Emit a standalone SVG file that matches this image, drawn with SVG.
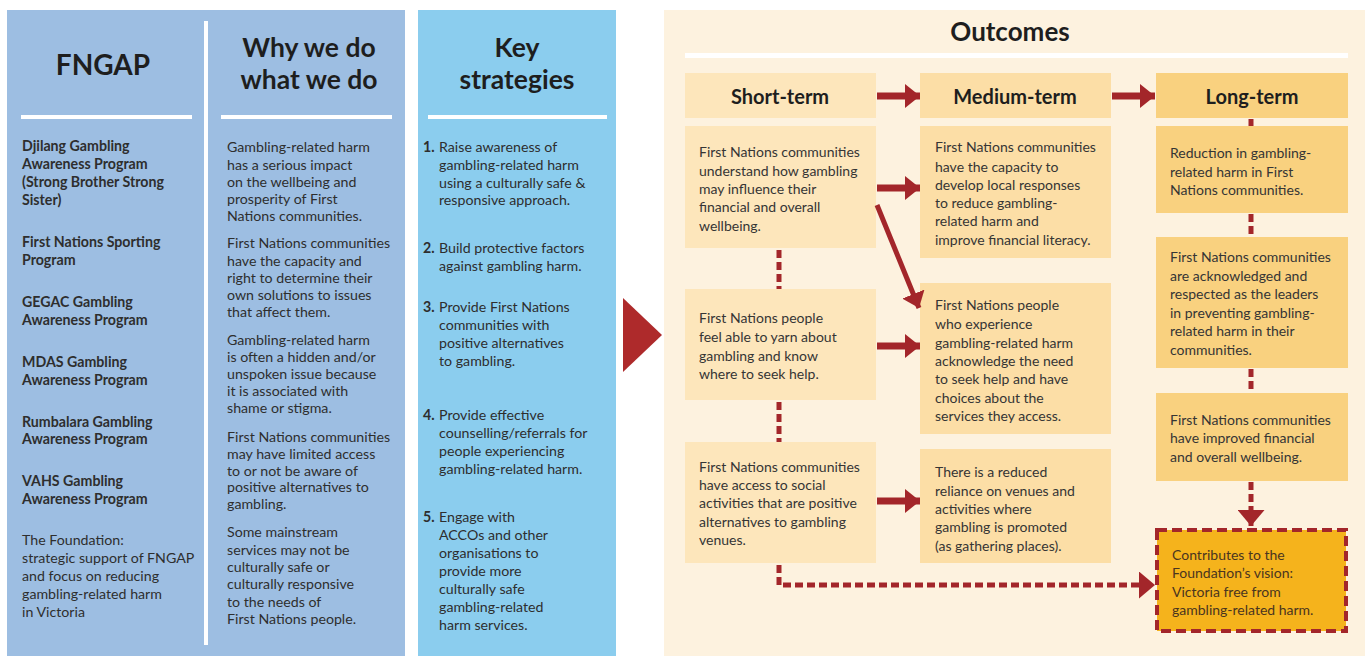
<svg xmlns="http://www.w3.org/2000/svg" width="1368" height="656" viewBox="0 0 1368 656">
  <defs>
    <style>
      text { font-family: Lato, "Open Sans", "DejaVu Sans", sans-serif; fill: #2e2e2e; }
      .ttl { font-weight: 700; fill: #1e1e1e; text-anchor: middle; }
      .bd { font-weight: 700; font-size: 14.2px; }
      .tx { font-size: 14.2px; }
      .ot { font-size: 14px; fill: #353535; }
      .num { font-weight: 700; }
      .rule { fill: #ffffff; }
      .st { fill: #fde6bb; }
      .md { fill: #fcdea6; }
      .lg { fill: #f9d17f; }
      .flow { stroke: #a3262a; fill: none; }
      .dash { stroke: #a3262a; fill: none; stroke-width: 5; stroke-dasharray: 8 4; }
    </style>
    <marker id="ah" markerUnits="userSpaceOnUse" markerWidth="15" markerHeight="24" refX="15" refY="12" orient="auto">
      <path d="M0,0 L15,12 L0,24 Z" fill="#a3262a"/>
    </marker>
    <marker id="ahd" markerUnits="userSpaceOnUse" markerWidth="16" markerHeight="27" refX="16" refY="13.5" orient="auto">
      <path d="M0,0 L16,13.5 L0,27 Z" fill="#a3262a"/>
    </marker>
  </defs>

  <rect width="1368" height="656" fill="#ffffff"/>

  <!-- FNGAP and "Why we do what we do" panel -->
  <g id="panel-left">
    <rect x="7" y="10" width="398" height="646" fill="#9dbee2"/>
    <rect x="204" y="21" width="4" height="624" class="rule"/>
  </g>

  <g id="fngap">
    <text x="103" y="75" class="ttl" font-size="28">FNGAP</text>
    <rect x="21" y="115" width="171" height="4" class="rule"/>
    <text class="bd">
      <tspan x="22" y="151">Djilang Gambling</tspan>
      <tspan x="22" y="169">Awareness Program</tspan>
      <tspan x="22" y="187">(Strong Brother Strong</tspan>
      <tspan x="22" y="205">Sister)</tspan>
      <tspan x="22" y="247">First Nations Sporting</tspan>
      <tspan x="22" y="265">Program</tspan>
      <tspan x="22" y="307">GEGAC Gambling</tspan>
      <tspan x="22" y="325">Awareness Program</tspan>
      <tspan x="22" y="367">MDAS Gambling</tspan>
      <tspan x="22" y="385">Awareness Program</tspan>
      <tspan x="22" y="427">Rumbalara Gambling</tspan>
      <tspan x="22" y="444">Awareness Program</tspan>
      <tspan x="22" y="486">VAHS Gambling</tspan>
      <tspan x="22" y="504">Awareness Program</tspan>
    </text>
    <text class="tx">
      <tspan x="22" y="545">The Foundation:</tspan>
      <tspan x="22" y="563">strategic support of FNGAP</tspan>
      <tspan x="22" y="581">and focus on reducing</tspan>
      <tspan x="22" y="599">gambling-related harm</tspan>
      <tspan x="22" y="617">in Victoria</tspan>
    </text>
  </g>

  <g id="why">
    <text x="309" y="57" class="ttl" font-size="26.5">Why we do</text>
    <text x="309" y="89" class="ttl" font-size="26.5">what we do</text>
    <rect x="221" y="115" width="171" height="4" class="rule"/>
    <text class="tx">
      <tspan x="227" y="152">Gambling-related harm</tspan>
      <tspan x="227" y="170">has a serious impact</tspan>
      <tspan x="227" y="187">on the wellbeing and</tspan>
      <tspan x="227" y="204">prosperity of First</tspan>
      <tspan x="227" y="221">Nations communities.</tspan>
      <tspan x="227" y="248">First Nations communities</tspan>
      <tspan x="227" y="266">have the capacity and</tspan>
      <tspan x="227" y="283">right to determine their</tspan>
      <tspan x="227" y="300">own solutions to issues</tspan>
      <tspan x="227" y="317">that affect them.</tspan>
      <tspan x="227" y="345">Gambling-related harm</tspan>
      <tspan x="227" y="362">is often a hidden and/or</tspan>
      <tspan x="227" y="379">unspoken issue because</tspan>
      <tspan x="227" y="396">it is associated with</tspan>
      <tspan x="227" y="413">shame or stigma.</tspan>
      <tspan x="227" y="442">First Nations communities</tspan>
      <tspan x="227" y="459">may have limited access</tspan>
      <tspan x="227" y="476">to or not be aware of</tspan>
      <tspan x="227" y="492">positive alternatives to</tspan>
      <tspan x="227" y="509">gambling.</tspan>
      <tspan x="227" y="537">Some mainstream</tspan>
      <tspan x="227" y="555">services may not be</tspan>
      <tspan x="227" y="572">culturally safe or</tspan>
      <tspan x="227" y="589">culturally responsive</tspan>
      <tspan x="227" y="607">to the needs of</tspan>
      <tspan x="227" y="624">First Nations people.</tspan>
    </text>
  </g>

  <!-- Key strategies panel -->
  <g id="strategies">
    <rect x="418" y="10" width="198" height="646" fill="#8bcdee"/>
    <text x="517" y="57" class="ttl" font-size="26.5">Key</text>
    <text x="517" y="89" class="ttl" font-size="26.5">strategies</text>
    <rect x="428" y="115" width="179" height="4" class="rule"/>
    <text class="tx">
      <tspan x="423" y="152" class="num">1.</tspan><tspan x="439" y="152">Raise awareness of</tspan>
      <tspan x="439" y="170">gambling-related harm</tspan>
      <tspan x="439" y="188">using a culturally safe &amp;</tspan>
      <tspan x="439" y="205">responsive approach.</tspan>
      <tspan x="423" y="253" class="num">2.</tspan><tspan x="439" y="253">Build protective factors</tspan>
      <tspan x="439" y="271">against gambling harm.</tspan>
      <tspan x="423" y="312" class="num">3.</tspan><tspan x="439" y="312">Provide First Nations</tspan>
      <tspan x="439" y="330">communities with</tspan>
      <tspan x="439" y="348">positive alternatives</tspan>
      <tspan x="439" y="366">to gambling.</tspan>
      <tspan x="423" y="420" class="num">4.</tspan><tspan x="439" y="420">Provide effective</tspan>
      <tspan x="439" y="438">counselling/referrals for</tspan>
      <tspan x="439" y="456">people experiencing</tspan>
      <tspan x="439" y="474">gambling-related harm.</tspan>
      <tspan x="423" y="522" class="num">5.</tspan><tspan x="439" y="522">Engage with</tspan>
      <tspan x="439" y="540">ACCOs and other</tspan>
      <tspan x="439" y="558">organisations to</tspan>
      <tspan x="439" y="576">provide more</tspan>
      <tspan x="439" y="594">culturally safe</tspan>
      <tspan x="439" y="612">gambling-related</tspan>
      <tspan x="439" y="630">harm services.</tspan>
    </text>
  </g>

  <!-- Pointer into the outcomes -->
  <g id="pointer">
    <polygon points="623,298 662,335 623,372" fill="#ae2a2b"/>
  </g>

  <!-- Outcomes panel -->
  <g id="outcomes">
    <rect x="664" y="10" width="701" height="646" fill="#fdf2df"/>
    <text x="1010" y="41" class="ttl" font-size="26">Outcomes</text>
    <rect x="685" y="53" width="663" height="5" class="rule"/>
  </g>

  <g id="short-term">
    <rect x="685" y="73" width="191" height="45" class="st"/>
    <text x="780" y="104" class="ttl" font-size="20">Short-term</text>
  </g>
  <g id="medium-term">
    <rect x="920" y="73" width="191" height="45" class="md"/>
    <text x="1015" y="104" class="ttl" font-size="20">Medium-term</text>
  </g>
  <g id="long-term">
    <rect x="1156" y="73" width="192" height="45" class="lg"/>
    <text x="1252" y="104" class="ttl" font-size="20">Long-term</text>
  </g>

  <g id="s1">
    <rect x="685" y="126" width="191" height="122" class="st"/>
    <text class="ot">
      <tspan x="699" y="157">First Nations communities</tspan>
      <tspan x="699" y="176">understand how gambling</tspan>
      <tspan x="699" y="194">may influence their</tspan>
      <tspan x="699" y="212">financial and overall</tspan>
      <tspan x="699" y="231">wellbeing.</tspan>
    </text>
  </g>
  <g id="s2">
    <rect x="685" y="289" width="191" height="111" class="st"/>
    <text class="ot">
      <tspan x="699" y="323">First Nations people</tspan>
      <tspan x="699" y="342">feel able to yarn about</tspan>
      <tspan x="699" y="361">gambling and know</tspan>
      <tspan x="699" y="379">where to seek help.</tspan>
    </text>
  </g>
  <g id="s3">
    <rect x="685" y="442" width="191" height="121" class="st"/>
    <text class="ot">
      <tspan x="699" y="472">First Nations communities</tspan>
      <tspan x="699" y="490">have access to social</tspan>
      <tspan x="699" y="508">activities that are positive</tspan>
      <tspan x="699" y="527">alternatives to gambling</tspan>
      <tspan x="699" y="545">venues.</tspan>
    </text>
  </g>

  <g id="m1">
    <rect x="920" y="126" width="191" height="132" class="md"/>
    <text class="ot">
      <tspan x="935" y="152">First Nations communities</tspan>
      <tspan x="935" y="172">have the capacity to</tspan>
      <tspan x="935" y="190">develop local responses</tspan>
      <tspan x="935" y="208">to reduce gambling-</tspan>
      <tspan x="935" y="226">related harm and</tspan>
      <tspan x="935" y="245">improve financial literacy.</tspan>
    </text>
  </g>
  <g id="m2">
    <rect x="920" y="283" width="191" height="151" class="md"/>
    <text class="ot">
      <tspan x="935" y="310">First Nations people</tspan>
      <tspan x="935" y="329">who experience</tspan>
      <tspan x="935" y="348">gambling-related harm</tspan>
      <tspan x="935" y="366">acknowledge the need</tspan>
      <tspan x="935" y="384">to seek help and have</tspan>
      <tspan x="935" y="403">choices about the</tspan>
      <tspan x="935" y="421">services they access.</tspan>
    </text>
  </g>
  <g id="m3">
    <rect x="920" y="449" width="191" height="114" class="md"/>
    <text class="ot">
      <tspan x="935" y="477">There is a reduced</tspan>
      <tspan x="935" y="496">reliance on venues and</tspan>
      <tspan x="935" y="514">activities where</tspan>
      <tspan x="935" y="532">gambling is promoted</tspan>
      <tspan x="935" y="551">(as gathering places).</tspan>
    </text>
  </g>

  <g id="l1">
    <rect x="1156" y="126" width="192" height="87" class="lg"/>
    <text class="ot">
      <tspan x="1170" y="158">Reduction in gambling-</tspan>
      <tspan x="1170" y="177">related harm in First</tspan>
      <tspan x="1170" y="195">Nations communities.</tspan>
    </text>
  </g>
  <g id="l2">
    <rect x="1156" y="237" width="192" height="131" class="lg"/>
    <text class="ot">
      <tspan x="1170" y="262">First Nations communities</tspan>
      <tspan x="1170" y="281">are acknowledged and</tspan>
      <tspan x="1170" y="299">respected as the leaders</tspan>
      <tspan x="1170" y="318">in preventing gambling-</tspan>
      <tspan x="1170" y="336">related harm in their</tspan>
      <tspan x="1170" y="355">communities.</tspan>
    </text>
  </g>
  <g id="l3">
    <rect x="1156" y="393" width="192" height="88" class="lg"/>
    <text class="ot">
      <tspan x="1170" y="425">First Nations communities</tspan>
      <tspan x="1170" y="443">have improved financial</tspan>
      <tspan x="1170" y="462">and overall wellbeing.</tspan>
    </text>
  </g>

  <g id="vision">
    <rect x="1157" y="530" width="189" height="101" fill="#f5b31c" stroke="#a3262a" stroke-width="4" stroke-dasharray="10 5"/>
    <text class="ot" font-size="15" style="fill:#4a3520">
      <tspan x="1172" y="560">Contributes to the</tspan>
      <tspan x="1172" y="578">Foundation’s vision:</tspan>
      <tspan x="1172" y="597">Victoria free from</tspan>
      <tspan x="1172" y="615">gambling-related harm.</tspan>
    </text>
  </g>

  <!-- Connectors -->
  <g id="connectors">
    <line x1="877" y1="96" x2="920" y2="96" class="flow" stroke-width="7" marker-end="url(#ah)"/>
    <line x1="1112" y1="96" x2="1155" y2="96" class="flow" stroke-width="7" marker-end="url(#ah)"/>
    <line x1="877" y1="188" x2="920" y2="188" class="flow" stroke-width="7" marker-end="url(#ah)"/>
    <line x1="877" y1="346" x2="920" y2="346" class="flow" stroke-width="7" marker-end="url(#ah)"/>
    <line x1="877" y1="501" x2="920" y2="501" class="flow" stroke-width="7" marker-end="url(#ah)"/>
    <line x1="877" y1="205" x2="919" y2="308" class="flow" stroke-width="5" marker-end="url(#ah)"/>

    <line x1="779" y1="250" x2="779" y2="289" class="dash"/>
    <line x1="779" y1="402" x2="779" y2="442" class="dash"/>
    <path d="M779,565 V585 H1155" class="dash" stroke-dasharray="10 4" marker-end="url(#ahd)"/>

    <line x1="1251" y1="119" x2="1251" y2="126" class="dash"/>
    <line x1="1251" y1="214" x2="1251" y2="237" class="dash"/>
    <line x1="1251" y1="369" x2="1251" y2="393" class="dash"/>
    <line x1="1251" y1="482" x2="1251" y2="526" class="dash" stroke-width="6" marker-end="url(#ahd)"/>
  </g>
</svg>
